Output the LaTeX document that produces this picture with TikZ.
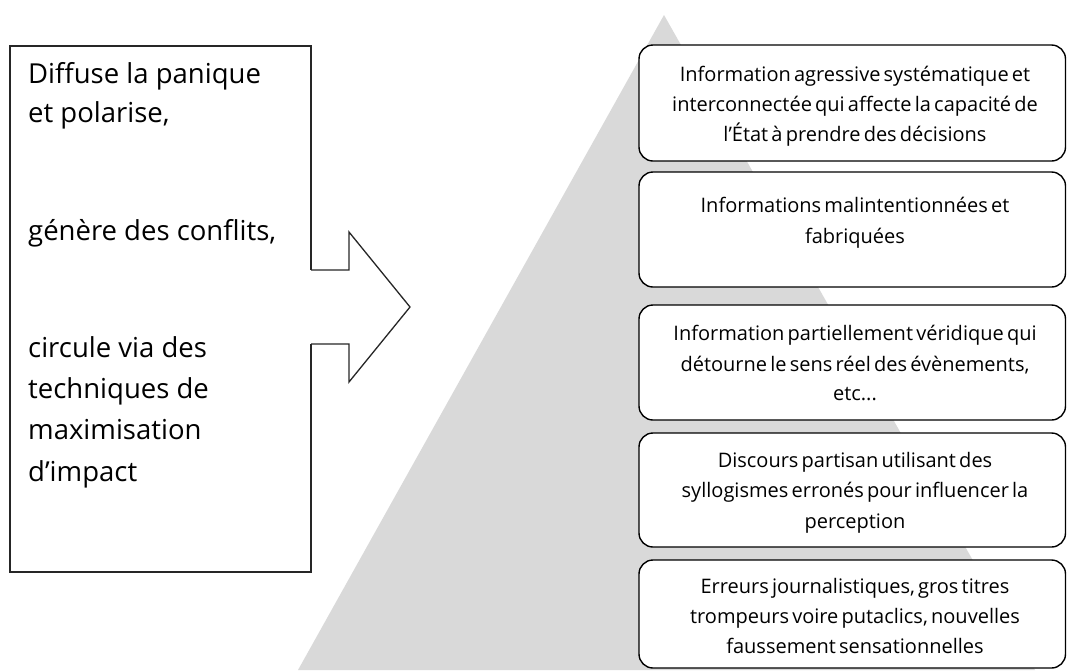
\documentclass[tikz,border=0pt]{standalone}
\usepackage{fontspec}
\setmainfont{Open Sans}
\definecolor{pyr}{HTML}{D9D9D9}
\newcommand\mytightsp{\spaceskip 0.16em plus 0.05em\relax}
\begin{document}
\begin{tikzpicture}[x=1pt,y=-1pt,
  lefttxt/.style={anchor=base west,inner sep=0pt,font=\fontsize{27.5}{30}\selectfont},
  righttxt/.style={anchor=base,inner sep=0pt,font=\fontsize{20}{22}\selectfont\mytightsp},
  rbox/.style={draw=black,line width=1.4pt,fill=white,rounded corners=14pt},
  outline/.style={draw=black!85,line width=1.3pt}]
\useasboundingbox (0,0) rectangle (1067,670);
% pyramid
\fill[pyr] (664,15) -- (1035,670) -- (298,670) -- cycle;
% left box
\draw[outline,fill=white] (10,46) rectangle (311,572);
\fill[white] (305,270) rectangle (349,344);
\draw[outline] (311,270) -- (349,270) -- (349,232) -- (410,307) -- (349,382) -- (349,344) -- (311,344);
\node[lefttxt] (l1) at (28,83) {Diffuse la panique};
\node[lefttxt] (l2) at (28,122) {et polarise,};
\node[lefttxt] (l3) at (28,240) {génère des conflits,};
\node[lefttxt] (l4) at (28,357) {circule via des};
\node[lefttxt] (l5) at (28,398) {techniques de};
\node[lefttxt] (l6) at (28,439) {maximisation};
\node[lefttxt] (l7) at (28,481) {d’impact};
% right boxes
\draw[rbox] (639,45) rectangle (1065.5,161);
\draw[rbox] (639,172) rectangle (1065.5,287);
\draw[rbox] (639,305) rectangle (1065.5,420);
\draw[rbox] (639,433) rectangle (1065.5,547);
\draw[rbox] (639,560) rectangle (1065.5,668);
\node[righttxt] (a1) at (855,81) {Information agressive systématique et};
\node[righttxt] (a2) at (855,111) {interconnectée qui affecte la capacité de};
\node[righttxt] (a3) at (855,141) {l’État à prendre des décisions};
\node[righttxt] (b1) at (855,212) {Informations malintentionnées et};
\node[righttxt] (b2) at (855,243) {fabriquées};
\node[righttxt] (c1) at (855,340) {Information partiellement véridique qui};
\node[righttxt] (c2) at (855,371) {détourne le sens réel des évènements,};
\node[righttxt] (c3) at (855,400) {etc...};
\node[righttxt] (d1) at (855,467) {Discours partisan utilisant des};
\node[righttxt] (d2) at (855,497) {syllogismes erronés pour influencer la};
\node[righttxt] (d3) at (855,528) {perception};
\node[righttxt] (e1) at (855,593) {Erreurs journalistiques, gros titres};
\node[righttxt] (e2) at (855,623) {trompeurs voire putaclics, nouvelles};
\node[righttxt] (e3) at (855,653) {faussement sensationnelles};
\end{tikzpicture}
\end{document}
